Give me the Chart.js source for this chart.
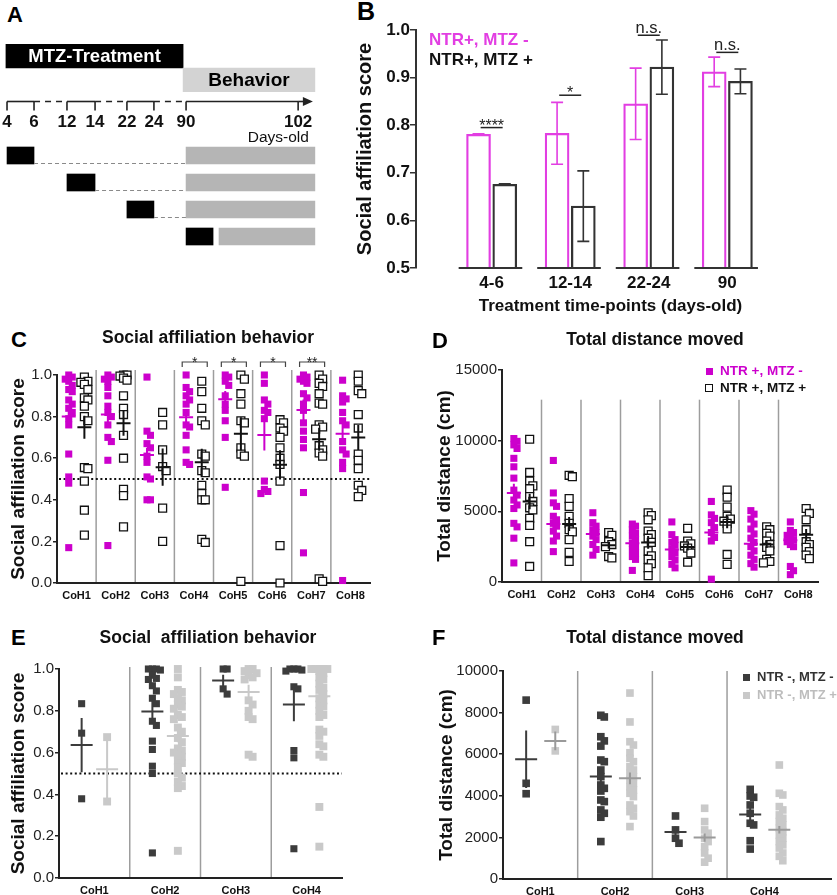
<!DOCTYPE html>
<html>
<head>
<meta charset="utf-8">
<title>Social affiliation figure</title>
<script src="https://cdn.jsdelivr.net/npm/chart.js@4.4.1/dist/chart.umd.min.js"></script>
<style>
  html, body { margin: 0; padding: 0; background: #fff; }
  body { position: relative; width: 837px; height: 895px; overflow: hidden;
         font-family: "Liberation Sans", Arial, Helvetica, sans-serif; color: #111; }
  canvas { position: absolute; }
  .t { position: absolute; line-height: 1; font-weight: bold; white-space: pre; }
  .letter { font-size: 22px; color: #000; }
  .title { font-size: 17.5px; text-align: center; width: 400px; color: #111; }
  .sq { position: absolute; box-sizing: border-box; }
</style>
</head>
<body>
<div class="t letter" style="left:7px;top:4px">A</div>
<canvas id="aHead" width="330" height="48" style="left:0;top:44px"></canvas>
<canvas id="aRows" width="330" height="155" style="left:0;top:95px"></canvas>

<div class="t letter" style="left:357px;top:-1px;font-size:25px">B</div>
<canvas id="chartB" width="507" height="320" style="left:330px;top:0"></canvas>
<div class="t" style="left:429px;top:31px;font-size:17px;color:#e23ee2">NTR+, MTZ -</div>
<div class="t" style="left:429px;top:51px;font-size:17px;color:#111">NTR+, MTZ +</div>

<div class="t letter" style="left:11px;top:329px">C</div>
<div class="t title" style="left:8px;top:329px">Social affiliation behavior</div>
<canvas id="chartC" width="420" height="300" style="left:0;top:315px"></canvas>

<div class="t letter" style="left:432px;top:330px">D</div>
<div class="t title" style="left:455px;top:331px">Total distance moved</div>
<canvas id="chartD" width="417" height="300" style="left:420px;top:315px"></canvas>
<div class="sq" style="left:706px;top:368px;width:7px;height:7px;background:#cc00cc"></div>
<div class="t" style="left:720px;top:364px;font-size:13.5px;color:#cc00cc">NTR +, MTZ -</div>
<div class="sq" style="left:705px;top:384px;width:8px;height:8px;border:1.3px solid #111;background:#fff"></div>
<div class="t" style="left:720px;top:381px;font-size:13.5px;color:#111">NTR +, MTZ +</div>

<div class="t letter" style="left:11px;top:627px">E</div>
<div class="t title" style="left:8px;top:629px">Social  affiliation behavior</div>
<canvas id="chartE" width="420" height="310" style="left:0;top:600px"></canvas>

<div class="t letter" style="left:432px;top:627px">F</div>
<div class="t title" style="left:455px;top:629px">Total distance moved</div>
<canvas id="chartF" width="417" height="310" style="left:420px;top:600px"></canvas>
<div class="sq" style="left:743px;top:674px;width:7px;height:7px;background:#3c3c3c"></div>
<div class="t" style="left:757px;top:670px;font-size:13px;color:#333">NTR -, MTZ -</div>
<div class="sq" style="left:743px;top:692px;width:7px;height:7px;background:#c9c9c9"></div>
<div class="t" style="left:757px;top:688px;font-size:13px;color:#bdbdbd">NTR -, MTZ +</div>

<script>
// ---------- panel A: treatment schedule (day axis is schematic, not to scale)
const A_HEAD_LABELS = ["MTZ-Treatment", "Behavior"];
const A_HEAD_SPANS = [[-0.04, 6.52], [6.52, 11.4]];
const A_DAY_LABELS = ["4", "6", "12", "14", "22", "24", "90", "102"];
const A_DAY_POS = [0, 1, 2.22, 3.26, 4.44, 5.44, 6.63, 10.78];
const A_ROWS = ["4-6", "12-14", "22-24", "90"];
const A_TREAT = [[0, 1], [2.22, 3.26], [4.44, 5.44], [6.63, 7.63]];
const A_BEHAV = [[6.63, 11.4], [6.63, 11.4], [6.63, 11.4], [7.85, 11.4]];

// ---------- panel B: mean social affiliation score by treatment window
const B_GROUPS = ["4-6", "12-14", "22-24", "90"];
const B_MAG_MEAN = [0.781, 0.783, 0.845, 0.912];
const B_MAG_ERR = [0.001, 0.065, 0.075, 0.031];
const B_BLK_MEAN = [0.676, 0.63, 0.922, 0.892];
const B_BLK_ERR = [0.001, 0.074, 0.057, 0.026];
const B_SIG = ["****", "*", "n.s.", "n.s."];
const B_SIG_LEVEL = [0.795, 0.863, 0.989, 0.953];

// ---------- panels C / D: cohorts CoH1..CoH8, NTR+ MTZ- (magenta) vs NTR+ MTZ+ (open)
const COH8 = ["CoH1", "CoH2", "CoH3", "CoH4", "CoH5", "CoH6", "CoH7", "CoH8"];
const C_MAG = [
  [1.0, 0.99, 0.98, 0.97, 0.95, 0.93, 0.92, 0.88, 0.86, 0.84, 0.82, 0.79, 0.76, 0.62, 0.51, 0.48, 0.17],
  [1.0, 0.99, 0.98, 0.97, 0.94, 0.9, 0.85, 0.82, 0.8, 0.76, 0.7, 0.68, 0.59, 0.18],
  [0.99, 0.73, 0.71, 0.67, 0.65, 0.61, 0.58, 0.51, 0.5, 0.4, 0.4],
  [1.0, 0.94, 0.92, 0.9, 0.88, 0.86, 0.82, 0.76, 0.75, 0.71, 0.64, 0.58, 0.57],
  [1.0, 0.99, 0.97, 0.95, 0.9, 0.86, 0.83, 0.78, 0.7, 0.46],
  [1.0, 0.96, 0.88, 0.86, 0.83, 0.82, 0.79, 0.49, 0.45, 0.44, 0.43],
  [1.0, 0.99, 0.98, 0.97, 0.96, 0.91, 0.89, 0.86, 0.83, 0.77, 0.73, 0.69, 0.65, 0.435, 0.145],
  [0.975, 0.9, 0.885, 0.87, 0.82, 0.78, 0.76, 0.68, 0.64, 0.62, 0.58, 0.55, 0.012],
];
const C_BLK = [
  [0.99, 0.97, 0.965, 0.955, 0.93, 0.89, 0.88, 0.85, 0.8, 0.78, 0.555, 0.55, 0.49, 0.35, 0.23],
  [1.0, 1.0, 0.995, 0.985, 0.975, 0.9, 0.84, 0.81, 0.71, 0.6, 0.45, 0.42, 0.27],
  [0.82, 0.76, 0.64, 0.56, 0.54, 0.36, 0.2],
  [0.97, 0.92, 0.84, 0.78, 0.76, 0.62, 0.61, 0.54, 0.53, 0.47, 0.43, 0.4, 0.4, 0.21, 0.195],
  [1.0, 0.98, 0.91, 0.86, 0.78, 0.77, 0.65, 0.62, 0.61, 0.008],
  [0.785, 0.77, 0.745, 0.73, 0.7, 0.65, 0.6, 0.57, 0.49, 0.18, 0.0],
  [1.0, 0.98, 0.96, 0.945, 0.91, 0.865, 0.86, 0.76, 0.75, 0.74, 0.66, 0.64, 0.625, 0.61, 0.02, 0.008],
  [1.0, 0.97, 0.925, 0.91, 0.81, 0.745, 0.62, 0.59, 0.55, 0.47, 0.445, 0.415],
];
const C_MAG_MEAN = [0.8, 0.81, 0.615, 0.797, 0.883, 0.712, 0.832, 0.717];
const C_MAG_SEM = [0.045, 0.05, 0.035, 0.035, 0.04, 0.075, 0.05, 0.05];
const C_BLK_MEAN = [0.749, 0.768, 0.557, 0.58, 0.717, 0.568, 0.691, 0.7];
const C_BLK_SEM = [0.055, 0.06, 0.09, 0.065, 0.08, 0.07, 0.055, 0.06];
const C_SIG_COHORT = [3, 4, 5, 6];
const C_SIG_TEXT = ["*", "*", "*", "**"];

const D_MAG = [
  [10150, 9950, 9700, 9450, 8750, 8150, 7350, 6500, 6150, 5800, 5450, 5200, 4150, 3900, 3100, 1350],
  [8600, 6300, 5600, 5350, 4650, 4400, 4150, 3950, 3600, 3250, 2900, 2150],
  [4900, 4200, 3950, 3700, 3500, 3250, 3000, 2650, 2300, 1900],
  [4100, 3950, 3700, 3450, 3250, 3000, 2750, 2500, 2300, 2050, 1800, 1600, 820],
  [4250, 3350, 3000, 2800, 2600, 2300, 2050, 1800, 1550, 1250, 1000],
  [5700, 4750, 4500, 4200, 3850, 3500, 3150, 2900, 200],
  [5050, 4800, 4450, 4100, 3750, 3400, 3100, 2800, 2500, 2200, 1900, 1600, 1300, 1050],
  [4250, 3650, 3500, 3300, 3150, 3000, 2850, 2650, 2500, 1100, 800, 520],
];
const D_BLK = [
  [10100, 7750, 7150, 6800, 6600, 6050, 5700, 5250, 5100, 4500, 4000, 2850, 1100],
  [7550, 7450, 5900, 5350, 4650, 4150, 3700, 3550, 3000, 2100, 1450],
  [3500, 3300, 2850, 2650, 2500, 1800, 1700],
  [4900, 4700, 4400, 3600, 3350, 3100, 2800, 2200, 1850, 1600, 1300, 1000, 450],
  [3800, 2900, 2700, 2550, 2400, 2050, 1400],
  [6500, 6000, 5300, 4650, 4450, 4300, 4150, 3750, 1950, 1250],
  [3900, 3700, 3450, 3250, 2900, 2650, 2450, 2200, 1600, 1450, 1350],
  [5200, 4850, 4400, 3700, 2850, 2650, 2450, 2150, 1900, 1650],
];
const D_MAG_MEAN = [6300, 4100, 3400, 2750, 2300, 3500, 2700, 2950];
const D_MAG_SEM = [650, 450, 250, 250, 300, 500, 300, 450];
const D_BLK_MEAN = [5700, 4100, 2600, 2800, 2480, 4250, 2650, 3350];
const D_BLK_SEM = [550, 500, 250, 450, 250, 450, 250, 400];

// ---------- panels E / F: cohorts CoH1..CoH4, NTR- MTZ- (dark) vs NTR- MTZ+ (light)
const COH4 = ["CoH1", "CoH2", "CoH3", "CoH4"];
const E_DARK = [
  [0.834, 0.693, 0.379],
  [1.0, 1.0, 1.0, 0.995, 0.97, 0.955, 0.95, 0.92, 0.895, 0.86, 0.834, 0.75, 0.73, 0.655, 0.615, 0.535, 0.5, 0.12],
  [1.0, 1.0, 0.905, 0.88],
  [1.0, 1.0, 1.0, 0.995, 0.99, 0.915, 0.905, 0.61, 0.575, 0.14],
];
const E_LIGHT = [
  [0.674, 0.366],
  [1.0, 0.96, 0.9, 0.89, 0.88, 0.86, 0.85, 0.83, 0.82, 0.81, 0.78, 0.77, 0.76, 0.72, 0.7, 0.67,
   0.65, 0.62, 0.61, 0.6, 0.59, 0.58, 0.56, 0.55, 0.53, 0.5, 0.48, 0.46, 0.44, 0.43, 0.13],
  [1.0, 1.0, 0.99, 0.98, 0.97, 0.96, 0.95, 0.85, 0.83, 0.8, 0.77, 0.76, 0.59, 0.58],
  [1.0, 1.0, 1.0, 1.0, 1.0, 1.0, 0.99, 0.98, 0.96, 0.95, 0.93, 0.91, 0.9, 0.88, 0.86, 0.85, 0.83,
   0.82, 0.8, 0.78, 0.77, 0.71, 0.7, 0.68, 0.64, 0.63, 0.59, 0.58, 0.34, 0.15],
];
const E_DARK_MEAN = [0.636, 0.797, 0.945, 0.83];
const E_DARK_SEM = [0.13, 0.05, 0.027, 0.08];
const E_LIGHT_MEAN = [0.52, 0.68, 0.89, 0.87];
const E_LIGHT_SEM = [0.14, 0.03, 0.035, 0.03];

const F_DARK = [
  [8600, 4600, 4100],
  [7870, 7790, 6840, 6640, 6390, 5720, 5640, 5240, 4920, 4520, 4360, 4230, 3800, 3720, 3320, 3160, 2970, 1800],
  [3030, 2360, 1960, 1720],
  [4310, 3990, 3930, 3560, 3160, 2680, 2600, 1840, 1440],
];
const F_LIGHT = [
  [7190, 6160],
  [8940, 7550, 6600, 6440, 6070, 5800, 5640, 5400, 5240, 5080, 4920, 4760, 4600, 4440, 4280, 4120,
   3960, 3560, 3400, 3240, 3030, 2520],
  [3400, 2760, 2360, 2200, 1960, 1800, 1560, 1250, 1000, 810],
  [5480, 4120, 4040, 3480, 3320, 3080, 2920, 2760, 2600, 2440, 2280, 2120, 1960, 1800, 1640, 1490,
   1250, 1090, 880],
];
const F_DARK_MEAN = [5760, 4930, 2260, 3100];
const F_DARK_SEM = [1380, 350, 270, 320];
const F_LIGHT_MEAN = [6640, 4840, 1990, 2370];
const F_LIGHT_SEM = [450, 280, 200, 180];

const MAG = "#cc00cc";
const MAG_B = "#e23ee2";
const DARK = "#3c3c3c";
const LIGHT = "#c9c9c9";
const FONT = '"Liberation Sans", Arial, Helvetica, sans-serif';

Chart.defaults.font.family = FONT;
Chart.defaults.color = "#111";
Chart.defaults.animation = false;
Chart.defaults.events = [];
Chart.defaults.plugins.legend.display = false;
Chart.defaults.plugins.tooltip.enabled = false;

// ---------------------------------------------------------------- panel A
const hiddenX = { type: "linear", min: -0.26, max: 11.96, display: false };

new Chart(document.getElementById("aHead"), {
  type: "bar",
  data: {
    labels: A_HEAD_LABELS,
    datasets: [{
      data: A_HEAD_SPANS.map((s, i) => ({ y: A_HEAD_LABELS[i], x: s })),
      backgroundColor: ["#000", "#d3d3d3"],
      borderWidth: 0,
      categoryPercentage: 1,
      barPercentage: 1,
    }],
  },
  options: {
    responsive: false,
    indexAxis: "y",
    layout: { padding: 0 },
    scales: { x: hiddenX, y: { type: "category", display: false } },
  },
  plugins: [{
    id: "headText",
    afterDatasetsDraw(chart) {
      const ctx = chart.ctx;
      chart.getDatasetMeta(0).data.forEach((bar, i) => {
        const c = bar.getCenterPoint();
        ctx.save();
        ctx.font = `bold ${i === 0 ? 18.5 : 19}px ${FONT}`;
        ctx.fillStyle = i === 0 ? "#fff" : "#000";
        ctx.textAlign = "center";
        ctx.textBaseline = "middle";
        ctx.fillText(A_HEAD_LABELS[i], c.x, c.y + 1);
        ctx.restore();
      });
    },
  }],
});

new Chart(document.getElementById("aRows"), {
  type: "bar",
  data: {
    labels: A_ROWS,
    datasets: [
      { data: A_TREAT.map((s, i) => ({ y: A_ROWS[i], x: s })), backgroundColor: "#000", barThickness: 17, grouped: false },
      { data: A_BEHAV.map((s, i) => ({ y: A_ROWS[i], x: s })), backgroundColor: "#b5b5b5", barThickness: 17, grouped: false },
    ],
  },
  options: {
    responsive: false,
    indexAxis: "y",
    layout: { padding: { top: 47 } },
    scales: { x: hiddenX, y: { type: "category", display: false } },
  },
  plugins: [{
    id: "dayAxis",
    afterDatasetsDraw(chart) {
      const { ctx, chartArea: a, scales: { x, y } } = chart;
      const px = (v) => x.getPixelForValue(v);
      const ay = a.top - 40.5;
      ctx.save();
      ctx.strokeStyle = "#222";
      ctx.lineWidth = 1.6;
      for (let k = 0; k < A_DAY_POS.length - 1; k++) {
        ctx.setLineDash(k % 2 ? [6, 5] : []);
        ctx.beginPath();
        ctx.moveTo(px(A_DAY_POS[k]), ay);
        ctx.lineTo(px(A_DAY_POS[k + 1]), ay);
        ctx.stroke();
      }
      ctx.setLineDash([]);
      const tip = px(A_HEAD_SPANS[1][1]) - 2;
      ctx.beginPath();
      ctx.moveTo(px(A_DAY_POS[A_DAY_POS.length - 1]), ay);
      ctx.lineTo(tip - 6, ay);
      ctx.stroke();
      ctx.fillStyle = "#222";
      ctx.beginPath();
      ctx.moveTo(tip, ay);
      ctx.lineTo(tip - 10, ay - 4.5);
      ctx.lineTo(tip - 10, ay + 4.5);
      ctx.closePath();
      ctx.fill();
      A_DAY_POS.forEach((p) => {
        ctx.beginPath();
        ctx.moveTo(px(p), ay);
        ctx.lineTo(px(p), ay + 9);
        ctx.stroke();
      });
      ctx.font = `bold 17px ${FONT}`;
      ctx.textAlign = "center";
      ctx.textBaseline = "alphabetic";
      ctx.fillStyle = "#111";
      A_DAY_LABELS.forEach((t, i) => ctx.fillText(t, px(A_DAY_POS[i]), ay + 25.5));
      ctx.font = `15.5px ${FONT}`;
      ctx.textAlign = "right";
      ctx.fillText("Days-old", tip - 4, ay + 40.5);
      // dashed links from each treatment window to the behaviour test
      ctx.strokeStyle = "#8a8a8a";
      ctx.lineWidth = 1;
      ctx.setLineDash([4, 3]);
      A_ROWS.forEach((r, i) => {
        if (A_BEHAV[i][0] - A_TREAT[i][1] < 0.5) return;
        const yy = y.getPixelForValue(i) + 8;
        ctx.beginPath();
        ctx.moveTo(px(A_TREAT[i][1]), yy);
        ctx.lineTo(px(A_BEHAV[i][0]), yy);
        ctx.stroke();
      });
      ctx.restore();
    },
  }],
});

// ---------------------------------------------------------------- panel B
const B_SHIFT = 0.167;
new Chart(document.getElementById("chartB"), {
  type: "bar",
  data: {
    datasets: [
      {
        data: B_GROUPS.map((g, i) => ({ x: i - B_SHIFT, y: B_MAG_MEAN[i] })),
        errors: B_MAG_ERR,
        borderColor: MAG_B, backgroundColor: "rgba(0,0,0,0)", borderWidth: 1.6,
        barThickness: 24, grouped: false,
      },
      {
        data: B_GROUPS.map((g, i) => ({ x: i + B_SHIFT, y: B_BLK_MEAN[i] })),
        errors: B_BLK_ERR,
        borderColor: "#333", backgroundColor: "rgba(0,0,0,0)", borderWidth: 1.6,
        barThickness: 24, grouped: false,
      },
    ],
  },
  options: {
    responsive: false,
    layout: { padding: { left: 20, top: 30, right: 32, bottom: 0 } },
    scales: {
      x: {
        type: "linear", min: -0.344, max: 3.37,
        grid: { display: false, drawTicks: false }, border: { display: false },
        afterBuildTicks: (s) => { s.ticks = B_GROUPS.map((_, i) => ({ value: i })); },
        ticks: { callback: (v) => B_GROUPS[v], font: { size: 17, weight: "bold" }, color: "#111", padding: 5, maxRotation: 0, autoSkip: false },
        title: { display: true, text: "Treatment time-points (days-old)", font: { size: 17, weight: "bold" }, color: "#111", padding: { top: 0, bottom: 3 } },
        afterFit: (s) => { s.height = 52; },
      },
      y: {
        min: 0.5, max: 1.0,
        ticks: { stepSize: 0.1, callback: (v) => v.toFixed(1), font: { size: 17, weight: "bold" }, color: "#111", padding: 0 },
        grid: { drawOnChartArea: false, tickLength: 6, color: "#333", lineWidth: 1.5 },
        border: { color: "#333", width: 2 },
        title: { display: true, text: "Social affiliation score", font: { size: 20, weight: "bold" }, color: "#111", padding: { top: 3, bottom: 0 } },
        afterFit: (s) => { s.width = 66; },
      },
    },
  },
  plugins: [{
    id: "bDecor",
    afterDatasetsDraw(chart) {
      const { ctx, chartArea: a, scales: { x, y } } = chart;
      ctx.save();
      // broken x axis: one segment under each pair of bars
      ctx.strokeStyle = "#333";
      ctx.lineWidth = 2;
      B_GROUPS.forEach((_, i) => {
        ctx.beginPath();
        ctx.moveTo(Math.max(a.left, x.getPixelForValue(i - 0.42)), a.bottom);
        ctx.lineTo(x.getPixelForValue(i + 0.39), a.bottom);
        ctx.stroke();
      });
      // error bars
      chart.data.datasets.forEach((ds, di) => {
        ctx.strokeStyle = ds.borderColor;
        ctx.lineWidth = 1.6;
        chart.getDatasetMeta(di).data.forEach((bar, i) => {
          const v = ds.data[i].y, e = ds.errors[i];
          const yt = y.getPixelForValue(v + e), yb = y.getPixelForValue(v - e);
          ctx.beginPath();
          ctx.moveTo(bar.x, yt); ctx.lineTo(bar.x, yb);
          ctx.moveTo(bar.x - 6, yt); ctx.lineTo(bar.x + 6, yt);
          ctx.moveTo(bar.x - 6, yb); ctx.lineTo(bar.x + 6, yb);
          ctx.stroke();
        });
      });
      // significance marks
      ctx.strokeStyle = "#222";
      ctx.fillStyle = "#222";
      ctx.lineWidth = 1.5;
      ctx.textAlign = "center";
      ctx.textBaseline = "alphabetic";
      B_SIG.forEach((t, i) => {
        const ly = y.getPixelForValue(B_SIG_LEVEL[i]);
        const x0 = x.getPixelForValue(i - 0.14), x1 = x.getPixelForValue(i + 0.14);
        ctx.beginPath(); ctx.moveTo(x0, ly); ctx.lineTo(x1, ly); ctx.stroke();
        const star = t[0] === "*";
        ctx.font = star ? `16px ${FONT}` : `16.5px ${FONT}`;
        ctx.fillText(t, (x0 + x1) / 2, star ? ly + 3 : ly - 2.5);
      });
      ctx.restore();
    },
  }],
});

// ---------------------------------------------------------------- scatter panels C-F
// column scatter: points that would overlap are pushed sideways into a few
// neighbouring slots (a small beeswarm); when all are taken the least crowded wins
function swarm(values, center, pxX, pxY, step, gap, maxSlot) {
  const slots = [0];
  for (let s = 1; s <= maxSlot; s++) slots.push(s, -s);
  const placed = [];
  return values.map((v) => {
    let best = 0, bestD = -1;
    for (const s of slots) {
      const d = Math.min(Infinity, ...placed.filter((p) => p.s === s).map((p) => Math.abs(p.v - v) * pxY));
      if (d >= gap) { best = s; break; }
      if (d > bestD) { bestD = d; best = s; }
    }
    placed.push({ v, s: best });
    return { x: center + (best * step) / pxX, y: v };
  });
}

function decorPlugin(p) {
  return {
    id: "cohortDecor",
    beforeDatasetsDraw(chart) {
      const { ctx, chartArea: a, scales: { x, y } } = chart;
      ctx.save();
      ctx.strokeStyle = "#9d9d9d";
      ctx.lineWidth = 1.5;
      const top = p.sepFrom == null ? a.top - p.sepRise : y.getPixelForValue(p.sepFrom);
      for (let i = 0; i < p.cohorts.length - 1; i++) {
        const sx = x.getPixelForValue(i + 0.5);
        ctx.beginPath(); ctx.moveTo(sx, top); ctx.lineTo(sx, a.bottom - 1); ctx.stroke();
      }
      if (p.ref != null) {
        const ry = y.getPixelForValue(p.ref);
        ctx.strokeStyle = "#111";
        ctx.lineWidth = 2;
        ctx.setLineDash([2, 2.6]);
        ctx.beginPath(); ctx.moveTo(a.left + 2, ry); ctx.lineTo(a.right, ry); ctx.stroke();
      }
      ctx.restore();
    },
    afterDatasetsDraw(chart) {
      const { ctx, chartArea: a, scales: { x, y } } = chart;
      ctx.save();
      ctx.lineWidth = 2;
      p.groups.forEach((g) => {
        ctx.strokeStyle = g.meanColor;
        p.cohorts.forEach((_, ci) => {
          const cx = x.getPixelForValue(ci + g.offset);
          const m = y.getPixelForValue(g.mean[ci]);
          ctx.beginPath();
          ctx.moveTo(cx - p.meanHalf, m); ctx.lineTo(cx + p.meanHalf, m);
          ctx.moveTo(cx, y.getPixelForValue(g.mean[ci] + g.sem[ci]));
          ctx.lineTo(cx, y.getPixelForValue(g.mean[ci] - g.sem[ci]));
          ctx.stroke();
        });
      });
      if (p.sigCohort) {
        const ly = a.top - 13;
        ctx.strokeStyle = "#444";
        ctx.fillStyle = "#222";
        ctx.lineWidth = 1.2;
        ctx.font = `14px ${FONT}`;
        ctx.textAlign = "center";
        ctx.textBaseline = "alphabetic";
        p.sigCohort.forEach((c, k) => {
          const x0 = x.getPixelForValue(c - 0.3), x1 = x.getPixelForValue(c + 0.34);
          ctx.beginPath();
          ctx.moveTo(x0, ly + 5); ctx.lineTo(x0, ly); ctx.lineTo(x1, ly); ctx.lineTo(x1, ly + 5);
          ctx.stroke();
          ctx.fillText(p.sigText[k], (x0 + x1) / 2, ly + 4.5);
        });
      }
      ctx.restore();
    },
  };
}

function scatterChart(id, p) {
  const datasets = p.groups.map((g) => ({
    data: p.cohorts.flatMap((_, ci) => swarm(g.values[ci], ci + g.offset, p.pxX, p.pxY, p.step, p.gap, p.maxSlot)),
    pointStyle: "rect",
    pointRadius: g.radius,
    pointBackgroundColor: g.fill,
    pointBorderColor: g.stroke,
    pointBorderWidth: g.strokeWidth,
    showLine: false,
    clip: false,
  }));
  return new Chart(document.getElementById(id), {
    type: "scatter",
    data: { datasets },
    options: {
      responsive: false,
      layout: { padding: p.padding },
      scales: {
        x: {
          type: "linear", min: -0.5, max: p.xMax,
          grid: { display: false, drawTicks: false },
          border: { color: "#222", width: 2 },
          afterBuildTicks: (s) => { s.ticks = p.cohorts.map((_, i) => ({ value: i })); },
          ticks: { callback: (v) => p.cohorts[v], font: { size: 11, weight: "bold" }, color: "#111", padding: 6, maxRotation: 0, autoSkip: false },
          afterFit: (s) => { s.height = p.xHeight; },
        },
        y: {
          min: p.yMin, max: p.yMax,
          ticks: { stepSize: p.yStep, callback: p.yFmt, font: { size: 15 }, color: "#222", padding: 1 },
          grid: { drawOnChartArea: false, tickLength: 4, color: "#222", lineWidth: 1.5 },
          border: { color: "#222", width: 2 },
          title: { display: true, text: p.yTitle, font: { size: 19, weight: "bold" }, color: "#111", padding: { top: 3, bottom: 0 } },
          afterFit: (s) => { s.width = p.yWidth; },
        },
      },
    },
    plugins: [decorPlugin(p)],
  });
}

const fmt1 = (v) => v.toFixed(1);
const fmtInt = (v) => String(Math.round(v));

scatterChart("chartC", {
  cohorts: COH8, xMax: 7.5, padding: { left: 4, top: 60, right: 50, bottom: 0 }, yWidth: 53, xHeight: 32,
  yMin: 0, yMax: 1, yStep: 0.2, yFmt: fmt1, yTitle: "Social affiliation score",
  pxX: 39.1, pxY: 208, step: 3.5, gap: 5.5, maxSlot: 1, meanHalf: 7,
  sepFrom: null, sepRise: 5, ref: 0.5, sigCohort: C_SIG_COHORT, sigText: C_SIG_TEXT,
  groups: [
    { values: C_MAG, mean: C_MAG_MEAN, sem: C_MAG_SEM, offset: -0.2, radius: 5, fill: MAG, stroke: MAG, strokeWidth: 0, meanColor: MAG },
    { values: C_BLK, mean: C_BLK_MEAN, sem: C_BLK_SEM, offset: 0.2, radius: 5.6, fill: "#fff", stroke: "#111", strokeWidth: 1.3, meanColor: "#111" },
  ],
});

scatterChart("chartD", {
  cohorts: COH8, xMax: 7.5, padding: { left: 10, top: 55, right: 19, bottom: 0 }, yWidth: 72, xHeight: 33,
  yMin: 0, yMax: 15000, yStep: 5000, yFmt: fmtInt, yTitle: "Total distance (cm)",
  pxX: 39.5, pxY: 212 / 15000, step: 3.2, gap: 5.5, maxSlot: 1, meanHalf: 7,
  sepFrom: 12900, ref: null,
  groups: [
    { values: D_MAG, mean: D_MAG_MEAN, sem: D_MAG_SEM, offset: -0.2, radius: 5, fill: MAG, stroke: MAG, strokeWidth: 0, meanColor: MAG },
    { values: D_BLK, mean: D_BLK_MEAN, sem: D_BLK_SEM, offset: 0.2, radius: 5.6, fill: "#fff", stroke: "#111", strokeWidth: 1.3, meanColor: "#111" },
  ],
});

scatterChart("chartE", {
  cohorts: COH4, xMax: 3.5, padding: { left: 4, top: 69, right: 78, bottom: 0 }, yWidth: 55, xHeight: 32,
  yMin: 0, yMax: 1, yStep: 0.2, yFmt: fmt1, yTitle: "Social affiliation score",
  pxX: 70.75, pxY: 209, step: 4, gap: 5.5, maxSlot: 2, meanHalf: 11,
  sepFrom: null, sepRise: 2, ref: 0.5,
  groups: [
    { values: E_DARK, mean: E_DARK_MEAN, sem: E_DARK_SEM, offset: -0.18, radius: 5, fill: DARK, stroke: DARK, strokeWidth: 0, meanColor: DARK },
    { values: E_LIGHT, mean: E_LIGHT_MEAN, sem: E_LIGHT_SEM, offset: 0.18, radius: 5.6, fill: LIGHT, stroke: LIGHT, strokeWidth: 0, meanColor: LIGHT },
  ],
});

scatterChart("chartF", {
  cohorts: COH4, xMax: 3.9, padding: { left: 12, top: 71, right: 2, bottom: 0 }, yWidth: 71, xHeight: 31,
  yMin: 0, yMax: 10000, yStep: 2000, yFmt: fmtInt, yTitle: "Total distance (cm)",
  pxX: 75.5, pxY: 208 / 10000, step: 3.5, gap: 5.5, maxSlot: 2, meanHalf: 11,
  sepFrom: null, sepRise: 0, ref: null,
  groups: [
    { values: F_DARK, mean: F_DARK_MEAN, sem: F_DARK_SEM, offset: -0.19, radius: 5.4, fill: DARK, stroke: DARK, strokeWidth: 0, meanColor: DARK },
    { values: F_LIGHT, mean: F_LIGHT_MEAN, sem: F_LIGHT_SEM, offset: 0.2, radius: 5.4, fill: LIGHT, stroke: LIGHT, strokeWidth: 0, meanColor: "#9a9a9a" },
  ],
});
</script>
</body>
</html>
